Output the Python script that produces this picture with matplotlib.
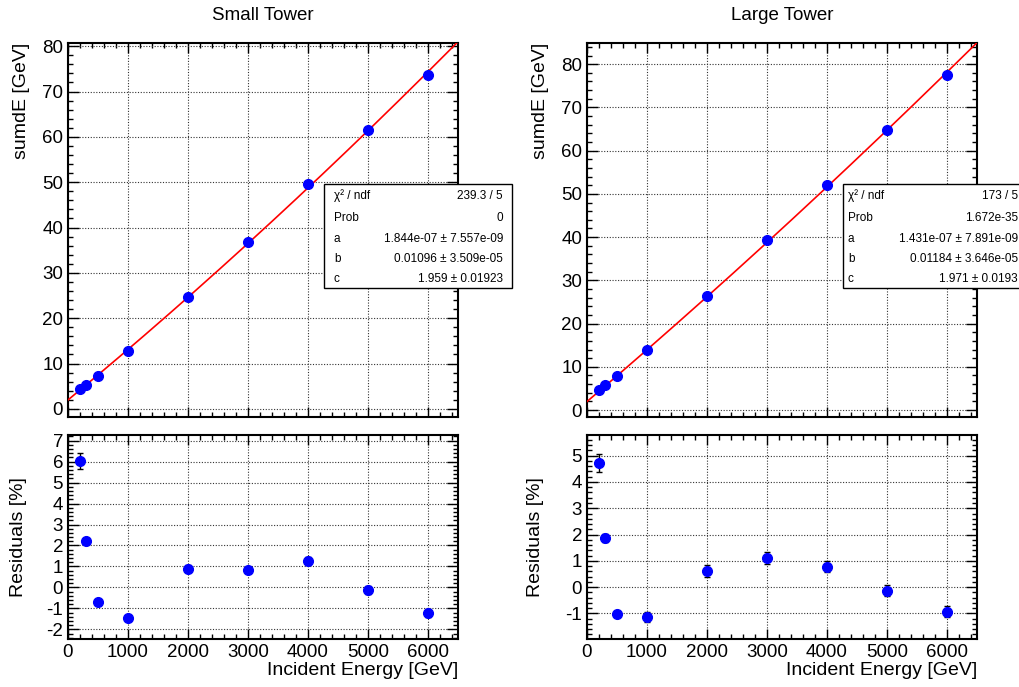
import numpy as np
import matplotlib.pyplot as plt
from matplotlib.ticker import MultipleLocator
from matplotlib.patches import Rectangle

plt.rcParams['font.family'] = ['Liberation Sans', 'DejaVu Sans']
plt.rcParams['axes.unicode_minus'] = False

W, H = 1020, 687

energy = [200, 300, 500, 1000, 2000, 3000, 4000, 5000, 6000]

# Small tower
small_sumdE = [4.35, 5.3, 7.35, 12.85, 24.75, 36.8, 49.5, 61.45, 73.6]
small_resid = [6.02, 2.2, -0.69, -1.48, 0.9, 0.83, 1.26, -0.11, -1.22]
small_resid_err = [0.38, 0.14, 0.06, 0.14, 0.17, 0.15, 0.17, 0.18, 0.18]
small_par = [1.844e-07, 0.01096, 1.959]
small_stats = [("χ² / ndf", "239.3 / 5"),
               ("Prob", "0"),
               ("a", "1.844e-07 ± 7.557e-09"),
               ("b", "0.01096 ± 3.509e-05"),
               ("c", "1.959 ± 0.01923")]

# Large tower
large_sumdE = [4.6, 5.7, 7.86, 13.8, 26.36, 39.3, 52.0, 64.7, 77.4]
large_resid = [4.72, 1.87, -1.03, -1.14, 0.62, 1.09, 0.78, -0.14, -0.94]
large_resid_err = [0.35, 0.15, 0.05, 0.2, 0.22, 0.23, 0.2, 0.2, 0.2]
large_par = [1.431e-07, 0.01184, 1.971]
large_stats = [("χ² / ndf", "173 / 5"),
               ("Prob", "1.672e-35"),
               ("a", "1.431e-07 ± 7.891e-09"),
               ("b", "0.01184 ± 3.646e-05"),
               ("c", "1.971 ± 0.0193")]


def box(x0, y0, x1, y1):
    # pixel box (top-left origin) -> figure rect
    return [x0 / W, 1 - y1 / H, (x1 - x0) / W, (y1 - y0) / H]


def root_style(ax, ymajor, yminor):
    ax.xaxis.set_major_locator(MultipleLocator(1000))
    ax.xaxis.set_minor_locator(MultipleLocator(200))
    ax.yaxis.set_major_locator(MultipleLocator(ymajor))
    ax.yaxis.set_minor_locator(MultipleLocator(yminor))
    ax.tick_params(which='both', direction='in', top=True, right=True,
                   labelsize=13.5, width=1, color='black')
    ax.tick_params(which='major', length=7)
    ax.tick_params(which='minor', length=3.5)
    ax.tick_params(axis='y', which='major', length=8)
    for s in ax.spines.values():
        s.set_linewidth(1.5)
    ax.grid(True, which='major', linestyle=(0, (1, 1.5)), color='0.2', linewidth=0.8)
    ax.set_axisbelow(True)
    ax.set_xlim(0, 6500)


def stat_box(fig, x0, y0, x1, y1, rows, tx0, tx1):
    fig.patches.append(Rectangle((x0 / W, 1 - y1 / H), (x1 - x0) / W, (y1 - y0) / H,
                                 transform=fig.transFigure, facecolor='white',
                                 edgecolor='black', linewidth=1, zorder=5))
    row_y = [196, 218, 239, 259, 279]
    for (name, val), yy in zip(rows, row_y):
        fig.text(tx0 / W, 1 - yy / H, name, fontsize=8.5, ha='left', va='center', zorder=6)
        fig.text(tx1 / W, 1 - yy / H, val, fontsize=8.5, ha='right', va='center', zorder=6)


fig = plt.figure(figsize=(W / 100, H / 100), dpi=100)

# title, axes left/right px, data, y ranges, stat box, y-label x px
panels = [
    ("Small Tower", 68, 458, small_sumdE, small_resid, small_resid_err, small_par,
     (-1.8, 80.7), (-2.46, 7.27), small_stats, (324, 512, 334, 503), (30, 27)),
    ("Large Tower", 587, 977, large_sumdE, large_resid, large_resid_err, large_par,
     (-1.6, 84.9), (-1.98, 5.79), large_stats, (843, 1030, 848, 1018), (549, 544)),
]

for (title, xl, xr, sumdE, resid, rerr, par, ylim_top, ylim_bot, stats, bx, lab) in panels:
    ax1 = fig.add_axes(box(xl, 43, xr, 417))
    ax2 = fig.add_axes(box(xl, 435, xr, 639))

    # fitted curve a*E^2 + b*E + c
    a, b, c = par
    xf = np.linspace(0, 6500, 400)
    ax1.plot(xf, a * xf**2 + b * xf + c, color='red', lw=1.2, zorder=3)
    ax1.plot(energy, sumdE, 'o', color='blue', ms=7, zorder=4)
    root_style(ax1, 10, 2)
    ax1.set_ylim(*ylim_top)
    ax1.tick_params(labelbottom=False)
    ax1.set_ylabel("sumdE [GeV]", fontsize=14, loc='top')
    ax1.yaxis.set_label_coords((lab[0] - xl) / (xr - xl), 1.0)

    ax2.errorbar(energy, resid, yerr=rerr, fmt='o', color='blue', ms=7,
                 ecolor='black', elinewidth=1, capsize=2, zorder=4)
    root_style(ax2, 1, 0.2)
    ax2.set_ylim(*ylim_bot)
    ax2.set_ylabel("Residuals [%]", fontsize=14)
    ax2.yaxis.set_label_coords((lab[1] - xl) / (xr - xl), 0.5)
    ax2.set_xlabel("Incident Energy [GeV]", fontsize=14, loc='right')
    ax2.xaxis.set_label_coords(1.0, -0.115)

    fig.text((xl + xr) / 2 / W, 1 - 15 / H, title, fontsize=13.5, ha='center', va='center')

    stat_box(fig, bx[0], 184, bx[1], 288, stats, bx[2], bx[3])

plt.savefig('out.png', dpi=100)
